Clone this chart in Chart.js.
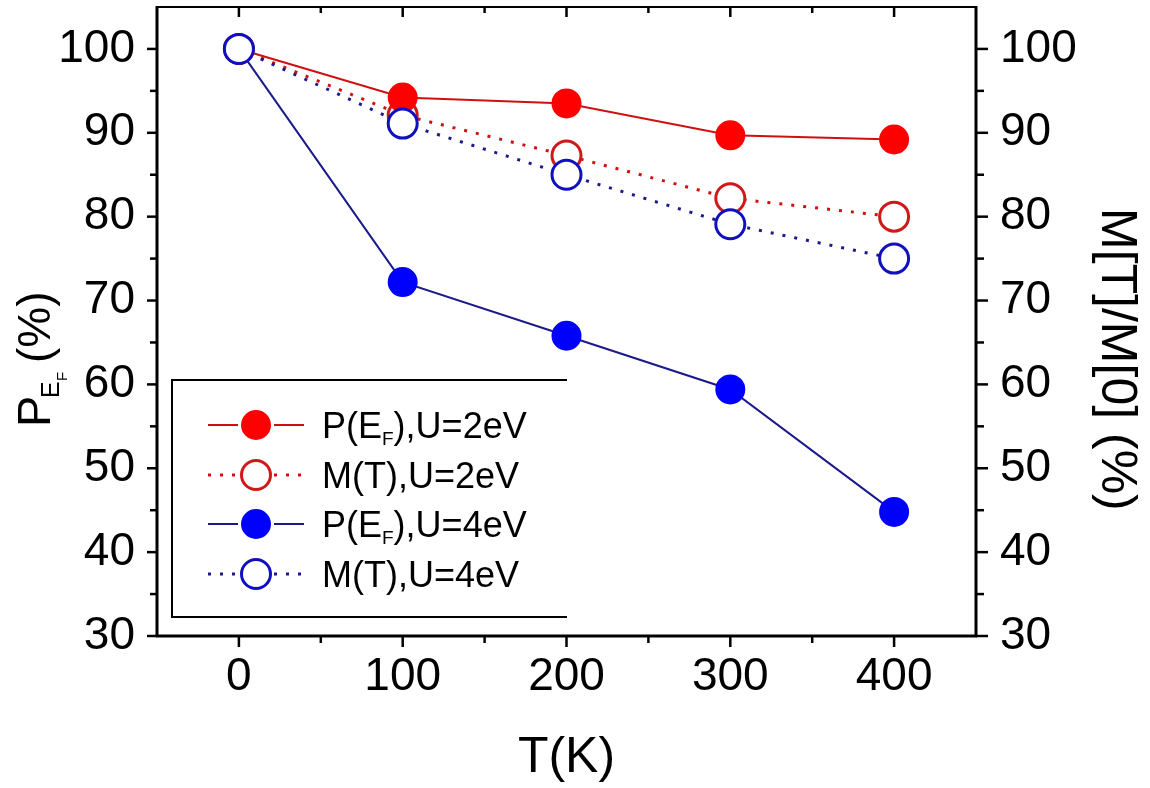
<!DOCTYPE html>
<html>
<head>
<meta charset="utf-8">
<script src="https://cdn.jsdelivr.net/npm/chart.js@4.4.1/dist/chart.umd.min.js"></script>
<style>
  html, body { margin: 0; padding: 0; background: #fff; }
  #wrap { width: 1150px; height: 788px; position: relative; }
</style>
</head>
<body>
<div id="wrap"><canvas id="chart"></canvas></div>
<script>
// Data
const temps = [0, 100, 200, 300, 400];
const pEf2eV = [100, 94.2, 93.5, 89.7, 89.2];
const mT2eV = [100, 92.1, 87.3, 82.2, 80.0];
const pEf4eV = [100, 72.2, 65.8, 59.4, 44.8];
const mT4eV = [100, 91.1, 85.0, 79.1, 75.0];

const xTicks = [0, 100, 200, 300, 400];
const xMinor = [50, 150, 250, 350];
const yTicks = [30, 40, 50, 60, 70, 80, 90, 100];
const yMinor = [35, 45, 55, 65, 75, 85, 95];

const FONT = "'Liberation Sans', Arial, sans-serif";
const RED = '#ff0000';
const RED_LINE = '#d01010';
const BLUE = '#0000ff';
const BLUE_LINE = '#1a1a8a';

const toPoints = vals => temps.map((t, i) => ({ x: t, y: vals[i] }));

// legend entries: label parts [before, subscript, after]
const legendItems = [
    { parts: ['P(E', 'F', '),U=2eV'], color: RED, line: RED_LINE, filled: true, dotted: false },
    { parts: ['M(T),U=2eV'], color: '#d01818', line: RED_LINE, filled: false, dotted: true },
    { parts: ['P(E', 'F', '),U=4eV'], color: BLUE, line: BLUE_LINE, filled: true, dotted: false },
    { parts: ['M(T),U=4eV'], color: '#1010c0', line: BLUE_LINE, filled: false, dotted: true }
];

function seriesDataset(label, vals, item, order) {
    return {
        label: label,
        data: toPoints(vals),
        showLine: true,
        borderColor: item.line,
        borderWidth: item.dotted ? 3 : 2,
        borderDash: item.dotted ? [3, 9] : [],
        pointRadius: item.filled ? 14 : 14.5,
        pointBackgroundColor: item.filled ? item.color : '#ffffff',
        pointBorderColor: item.color,
        pointBorderWidth: item.filled ? 2 : 3,
        order: order
    };
}

function line(ctx, x1, y1, x2, y2) {
    ctx.beginPath();
    ctx.moveTo(x1, y1);
    ctx.lineTo(x2, y2);
    ctx.stroke();
}

const framePlugin = {
    id: 'frame',
    afterDraw(chart) {
        const ctx = chart.ctx;
        const a = chart.chartArea;
        const xs = chart.scales.x;
        const ys = chart.scales.y;
        ctx.save();
        ctx.strokeStyle = '#000';
        ctx.lineCap = 'butt';

        // frame
        ctx.lineWidth = 3;
        line(ctx, a.left, a.top - 1, a.left, a.bottom + 1);
        line(ctx, a.right, a.top - 1, a.right, a.bottom + 1);
        line(ctx, a.left - 1, a.bottom, a.right + 1, a.bottom);
        ctx.lineWidth = 2;
        line(ctx, a.left, a.top, a.right, a.top);

        // ticks
        ctx.lineWidth = 2.5;
        xTicks.forEach(v => {
            const px = xs.getPixelForValue(v);
            line(ctx, px, a.bottom, px, a.bottom + 11);
            line(ctx, px, a.top, px, a.top + 10);
        });
        xMinor.forEach(v => {
            const px = xs.getPixelForValue(v);
            line(ctx, px, a.bottom, px, a.bottom + 7);
            line(ctx, px, a.top, px, a.top + 6);
        });
        yTicks.forEach(v => {
            const py = ys.getPixelForValue(v);
            line(ctx, a.left - 10, py, a.left, py);
            line(ctx, a.right, py, a.right + 12, py);
        });
        yMinor.forEach(v => {
            const py = ys.getPixelForValue(v);
            line(ctx, a.left - 7, py, a.left, py);
            line(ctx, a.right, py, a.right + 8, py);
        });

        // legend box (left, top, bottom edges)
        ctx.lineWidth = 2;
        ctx.beginPath();
        ctx.moveTo(567, 380);
        ctx.lineTo(172, 380);
        ctx.lineTo(172, 617);
        ctx.lineTo(567, 617);
        ctx.stroke();

        // legend rows
        const rowY = [425, 475, 524, 574];
        legendItems.forEach((it, i) => {
            const y = rowY[i];
            ctx.strokeStyle = it.line;
            ctx.lineWidth = it.dotted ? 3 : 2;
            ctx.setLineDash(it.dotted ? [3, 9] : []);
            line(ctx, 208, y, 238, y);
            line(ctx, 274, y, 304, y);
            ctx.setLineDash([]);
            ctx.beginPath();
            ctx.arc(256, y, it.filled ? 14 : 14.5, 0, Math.PI * 2);
            ctx.fillStyle = it.filled ? it.color : '#fff';
            ctx.fill();
            ctx.lineWidth = it.filled ? 2 : 3;
            ctx.strokeStyle = it.color;
            ctx.stroke();

            ctx.fillStyle = '#000';
            ctx.textBaseline = 'alphabetic';
            ctx.textAlign = 'left';
            let x = 322;
            const base = y + 13;
            ctx.font = '36px ' + FONT;
            ctx.fillText(it.parts[0], x, base);
            x += ctx.measureText(it.parts[0]).width;
            if (it.parts.length > 1) {
                ctx.font = '19px ' + FONT;
                ctx.fillText(it.parts[1], x, base + 7);
                x += ctx.measureText(it.parts[1]).width;
                ctx.font = '36px ' + FONT;
                ctx.fillText(it.parts[2], x, base);
            }
        });

        // x title
        ctx.fillStyle = '#000';
        ctx.font = '50px ' + FONT;
        ctx.textAlign = 'center';
        ctx.textBaseline = 'alphabetic';
        ctx.fillText('T(K)', (a.left + a.right) / 2, 772);

        // left title: P_{E_F}(%)
        ctx.save();
        ctx.translate(50, 427);
        ctx.rotate(-Math.PI / 2);
        ctx.textAlign = 'left';
        ctx.font = '47px ' + FONT;
        ctx.fillText('P', 0, 0);
        ctx.font = '25px ' + FONT;
        ctx.fillText('E', 29, 9);
        ctx.font = '15px ' + FONT;
        ctx.fillText('F', 46, 17);
        ctx.font = '46px ' + FONT;
        ctx.fillText('(%)', 64, 0);
        ctx.restore();

        // right title
        ctx.save();
        ctx.translate(1102, 208);
        ctx.rotate(Math.PI / 2);
        ctx.textAlign = 'left';
        ctx.font = '50px ' + FONT;
        ctx.fillText('M[T]/M[0] (%)', 0, 0);
        ctx.restore();

        ctx.restore();
    }
};

const tickFont = { family: FONT, size: 46 };

function noPad(s) {
    s.paddingTop = 0;
    s.paddingBottom = 0;
    s.paddingLeft = 0;
    s.paddingRight = 0;
}

new Chart(document.getElementById('chart'), {
    type: 'scatter',
    data: {
        datasets: [
            seriesDataset('P(EF),U=2eV', pEf2eV, legendItems[0], 2),
            seriesDataset('M(T),U=2eV', mT2eV, legendItems[1], 3),
            seriesDataset('P(EF),U=4eV', pEf4eV, legendItems[2], 1),
            seriesDataset('M(T),U=4eV', mT4eV, legendItems[3], 0)
        ]
    },
    options: {
        responsive: true,
        maintainAspectRatio: false,
        animation: false,
        devicePixelRatio: 1,
        layout: { autoPadding: false, padding: { top: 7, left: 0, right: 0, bottom: 0 } },
        plugins: {
            legend: { display: false },
            tooltip: { enabled: false }
        },
        scales: {
            x: {
                type: 'linear',
                min: -50,
                max: 450,
                afterBuildTicks: s => { s.ticks = xTicks.map(v => ({ value: v })); },
                afterFit: s => { s.height = 152; noPad(s); },
                grid: { display: false, drawTicks: false },
                border: { display: false },
                ticks: { color: '#000', font: tickFont, padding: 14 }
            },
            y: {
                position: 'left',
                min: 30,
                max: 105,
                afterBuildTicks: s => { s.ticks = yTicks.map(v => ({ value: v })); },
                afterFit: s => { s.width = 157; noPad(s); },
                grid: { display: false, drawTicks: false },
                border: { display: false },
                ticks: { color: '#000', font: tickFont, padding: 22 }
            },
            y2: {
                position: 'right',
                min: 30,
                max: 105,
                afterBuildTicks: s => { s.ticks = yTicks.map(v => ({ value: v })); },
                afterFit: s => { s.width = 174; noPad(s); },
                grid: { display: false, drawTicks: false },
                border: { display: false },
                ticks: { color: '#000', font: tickFont, padding: 24 }
            }
        }
    },
    plugins: [framePlugin]
});
</script>
</body>
</html>
